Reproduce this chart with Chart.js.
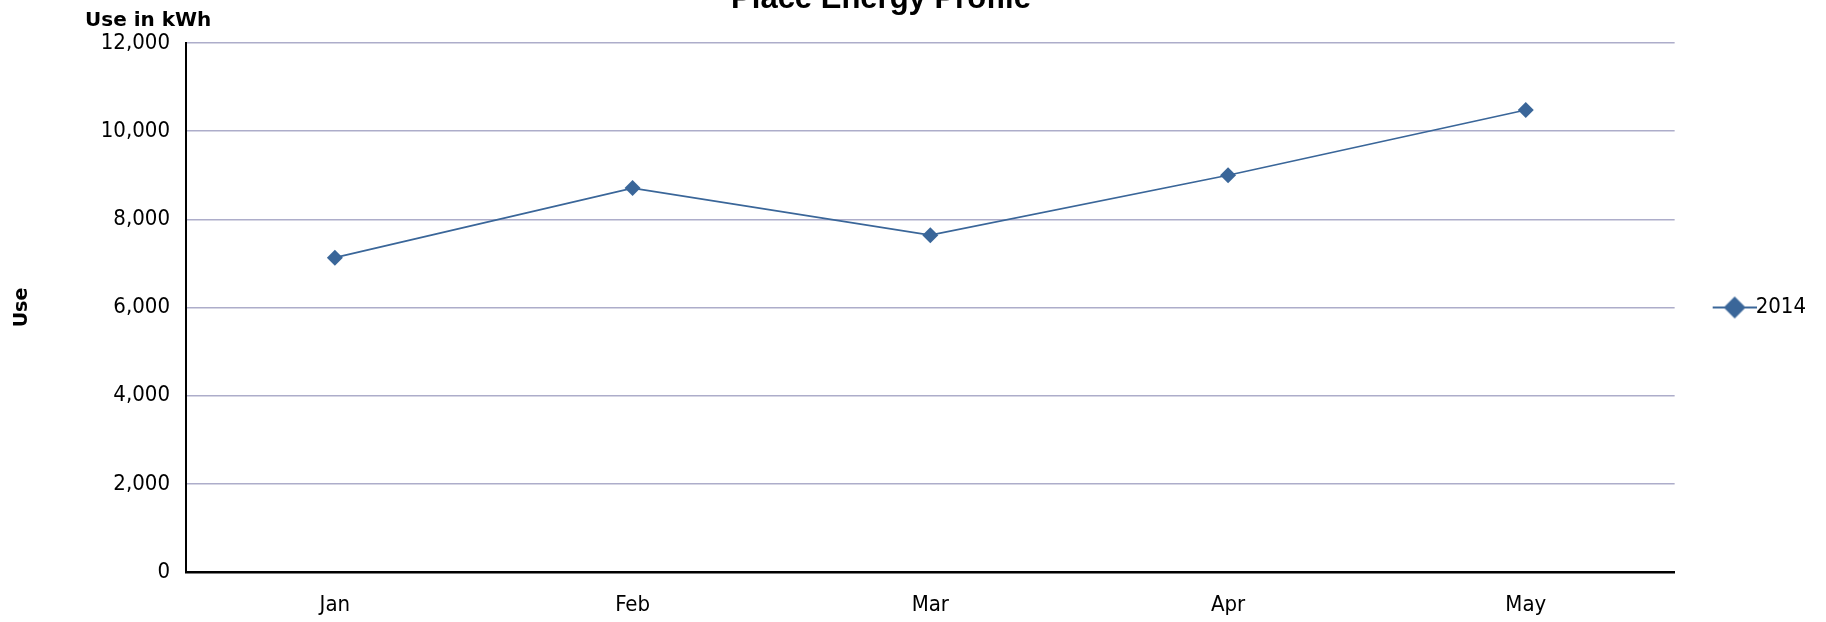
<!DOCTYPE html>
<html>
<head>
<meta charset="utf-8">
<script src="https://cdn.jsdelivr.net/npm/chart.js@4"></script>
<style>
  html, body { margin: 0; padding: 0; background: #fff; }
</style>
</head>
<body>
<canvas id="myChart" width="1826" height="622"></canvas>
<script>
const months = ['Jan', 'Feb', 'Mar', 'Apr', 'May'];
const use2014 = [7130, 8710, 7640, 9000, 10480];
const yTicks = [0, 2000, 4000, 6000, 8000, 10000, 12000];
const seriesName = '2014';
const chartTitle = 'Place Energy Profile';
const unitLabel = 'Use in kWh';
const axisTitle = 'Use';

const lineColor = '#3a6699';
const gridColor = '#adadca';
const tickFont = { family: "'DejaVu Sans Condensed', 'DejaVu Sans', sans-serif", size: 22 };

// legend marker: short line with a diamond on it
function legendIcon() {
    const c = document.createElement('canvas');
    c.width = 84;
    c.height = 24;
    const g = c.getContext('2d');
    g.strokeStyle = lineColor;
    g.lineWidth = 2;
    g.beginPath();
    g.moveTo(40, 12);
    g.lineTo(84, 12);
    g.stroke();
    g.fillStyle = lineColor;
    g.beginPath();
    g.moveTo(62, 1);
    g.lineTo(73, 12);
    g.lineTo(62, 23);
    g.lineTo(51, 12);
    g.closePath();
    g.fill();
    return c;
}

// title (clipped at the top in the original) and the unit label over the y axis
const headerText = {
    id: 'headerText',
    afterDraw(chart) {
        const ctx = chart.ctx;
        ctx.save();
        ctx.fillStyle = '#000';
        ctx.textBaseline = 'alphabetic';
        ctx.font = "bold 31px 'Liberation Sans', Arial, sans-serif";
        ctx.textAlign = 'center';
        ctx.fillText(chartTitle, 881, 8);
        ctx.font = "bold 20px 'DejaVu Sans', sans-serif";
        ctx.textAlign = 'left';
        ctx.fillText(unitLabel, 85, 26);
        ctx.restore();
    }
};

function createChart() {
    const icon = legendIcon();
    const ctx = document.getElementById('myChart').getContext('2d');

    new Chart(ctx, {
        type: 'line',
        data: {
            labels: months,
            datasets: [{
                label: seriesName,
                data: use2014,
                borderColor: lineColor,
                backgroundColor: lineColor,
                borderWidth: 1.75,
                pointStyle: 'rectRot',
                pointRadius: 8,
                pointHoverRadius: 8,
                pointBorderWidth: 0,
                tension: 0,
                fill: false
            }]
        },
        options: {
            responsive: false,
            animation: false,
            devicePixelRatio: 1,
            layout: {
                padding: { top: 43, right: 10, bottom: 0, left: 0 }
            },
            plugins: {
                title: { display: false },
                tooltip: { enabled: false },
                legend: {
                    position: 'right',
                    fullSize: false,
                    labels: {
                        color: '#000',
                        font: tickFont,
                        padding: 10,
                        usePointStyle: true,
                        pointStyleWidth: 60,
                        generateLabels: (chart) => [{
                            text: seriesName,
                            pointStyle: icon,
                            fillStyle: lineColor,
                            strokeStyle: lineColor,
                            lineWidth: 0,
                            datasetIndex: 0
                        }]
                    }
                }
            },
            scales: {
                x: {
                    offset: true,
                    grid: { display: false, drawTicks: false },
                    border: { display: true, color: '#000', width: 2.5 },
                    ticks: { color: '#000', font: tickFont, padding: 20 },
                    afterFit: (scale) => { scale.height = 50; }
                },
                y: {
                    min: 0,
                    max: 12000,
                    afterBuildTicks: (scale) => {
                        scale.ticks = yTicks.map(v => ({ value: v }));
                    },
                    grid: {
                        drawTicks: false,
                        lineWidth: 1.5,
                        color: (c) => c.tick && c.tick.value === 0 ? 'rgba(0,0,0,0)' : gridColor
                    },
                    border: { display: true, color: '#000', width: 2 },
                    ticks: {
                        color: '#000',
                        font: tickFont,
                        padding: 16,
                        callback: (v) => v.toLocaleString('en-US')
                    },
                    title: {
                        display: true,
                        text: axisTitle,
                        color: '#000',
                        font: { family: "'DejaVu Sans', sans-serif", size: 19, weight: 'bold' },
                        padding: { top: 11, bottom: 0 }
                    },
                    afterFit: (scale) => { scale.width = 186; }
                }
            }
        },
        plugins: [headerText]
    });
}
createChart();
</script>
</body>
</html>
